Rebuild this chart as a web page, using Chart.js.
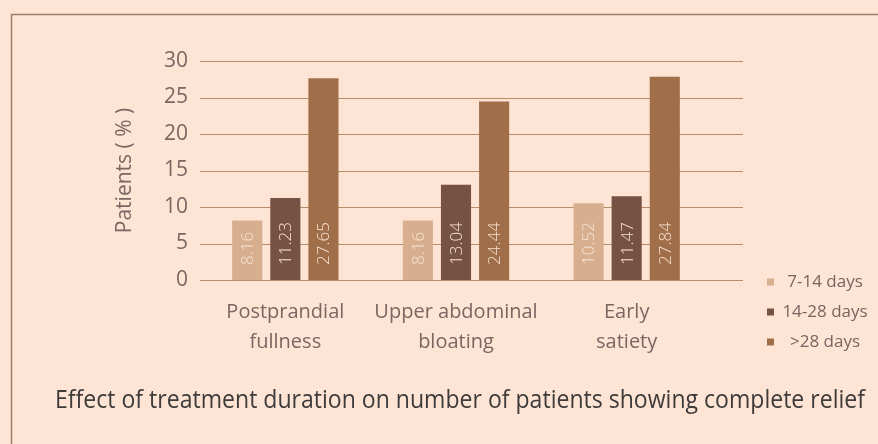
<!DOCTYPE html>
<html>
<head>
<meta charset="utf-8">
<script src="https://cdn.jsdelivr.net/npm/chart.js@4/dist/chart.umd.min.js"></script>
<style>
  html, body { margin: 0; padding: 0; background: #fde4d4; }
  #wrap { width: 878px; height: 444px; position: relative; }
</style>
</head>
<body>
<div id="wrap"><canvas id="myChart" width="878" height="444"></canvas></div>
<script>
const categories = [['Postprandial', 'fullness'], ['Upper abdominal', 'bloating'], ['Early', 'satiety']];
const seriesNames = ['7-14 days', '14-28 days', '>28 days'];
const days7to14 = [8.16, 8.16, 10.52];
const days14to28 = [11.23, 13.04, 11.47];
const daysOver28 = [27.65, 24.44, 27.84];
const yTicks = [0, 5, 10, 15, 20, 25, 30];
const chartTitle = 'Effect of treatment duration on number of patients showing complete relief';

const colors = ['#d7af8f', '#765242', '#a06f4a'];
const FONT = '"Open Sans", sans-serif';

// background + frame
const framePlugin = {
    id: 'frame',
    beforeDraw(chart) {
        const c = chart.ctx;
        c.save();
        c.fillStyle = '#fde4d4';
        c.fillRect(0, 0, chart.width, chart.height);
        c.strokeStyle = '#9c7b68';
        c.lineWidth = 1.5;
        c.strokeRect(11.5, 14.5, 1000, 1000);
        c.restore();
    }
};

// horizontal grid lines, running a little past the last group
const gridPlugin = {
    id: 'extGrid',
    beforeDatasetsDraw(chart) {
        const c = chart.ctx;
        const y = chart.scales.y;
        const area = chart.chartArea;
        c.save();
        c.strokeStyle = '#bb8c68';
        c.lineWidth = 1.2;
        yTicks.forEach(v => {
            const py = Math.round(y.getPixelForValue(v)) + 0.5;
            c.beginPath();
            c.moveTo(area.left, py);
            c.lineTo(area.right + 31, py);
            c.stroke();
        });
        c.restore();
    }
};

// rotated value labels inside bars
const barLabels = {
    id: 'barLabels',
    afterDatasetsDraw(chart) {
        const c = chart.ctx;
        c.save();
        c.font = '300 17px ' + FONT;
        c.fillStyle = '#f6e2d2';
        c.textAlign = 'left';
        c.textBaseline = 'middle';
        chart.data.datasets.forEach((ds, i) => {
            chart.getDatasetMeta(i).data.forEach((bar, j) => {
                c.save();
                c.translate(bar.x, bar.base - 15);
                c.rotate(-Math.PI / 2);
                c.fillText(ds.data[j].toFixed(2), 0, 1);
                c.restore();
            });
        });
        c.restore();
    }
};

// small legend at the lower right + caption underneath
const legendPlugin = {
    id: 'sideLegend',
    afterDraw(chart) {
        const c = chart.ctx;
        const y = chart.scales.y;
        const top = y.getPixelForValue(0) + 2;
        c.save();
        c.font = '17px ' + FONT;
        c.textBaseline = 'middle';
        c.textAlign = 'center';
        chart.data.datasets.forEach((ds, i) => {
            const cy = top + i * 30;
            c.fillStyle = ds.backgroundColor;
            c.fillRect(767, cy - 3.5, 7, 7);
            c.fillStyle = '#7a6460';
            c.fillText(ds.label, 825, cy);
        });
        c.font = '26px ' + FONT;
        c.fillStyle = '#3e3b3b';
        c.fillText(chartTitle, 460, 401, 810);
        c.restore();
    }
};

const ctx = document.getElementById('myChart');

new Chart(ctx, {
    type: 'bar',
    data: {
        labels: categories,
        datasets: [
            { label: seriesNames[0], data: days7to14, backgroundColor: colors[0] },
            { label: seriesNames[1], data: days14to28, backgroundColor: colors[1] },
            { label: seriesNames[2], data: daysOver28, backgroundColor: colors[2] }
        ]
    },
    options: {
        responsive: false,
        animation: false,
        devicePixelRatio: 1,
        layout: { padding: { left: 100, right: 166, top: 61, bottom: 4 } },
        datasets: {
            bar: { categoryPercentage: 0.67, barPercentage: 0.79 }
        },
        scales: {
            x: {
                grid: { display: false, drawTicks: false },
                border: { display: false },
                ticks: {
                    color: '#7a6762',
                    font: { family: FONT, size: 20, lineHeight: 1.5 },
                    padding: 17,
                    maxRotation: 0
                },
                afterFit(scale) { scale.height = 160; }
            },
            y: {
                min: 0,
                max: 30,
                grid: { display: false, drawTicks: false },
                border: { display: false },
                ticks: {
                    stepSize: 5,
                    color: '#7a6762',
                    font: { family: FONT, size: 21 },
                    padding: 12
                },
                title: {
                    display: true,
                    text: 'Patients ( % )',
                    color: '#7a6762',
                    font: { family: FONT, size: 21 },
                    padding: { top: 12, bottom: 0 }
                },
                afterFit(scale) { scale.width = 100; }
            }
        },
        plugins: {
            legend: { display: false },
            tooltip: { enabled: false },
            title: { display: false }
        }
    },
    plugins: [framePlugin, gridPlugin, barLabels, legendPlugin]
});
</script>
</body>
</html>
